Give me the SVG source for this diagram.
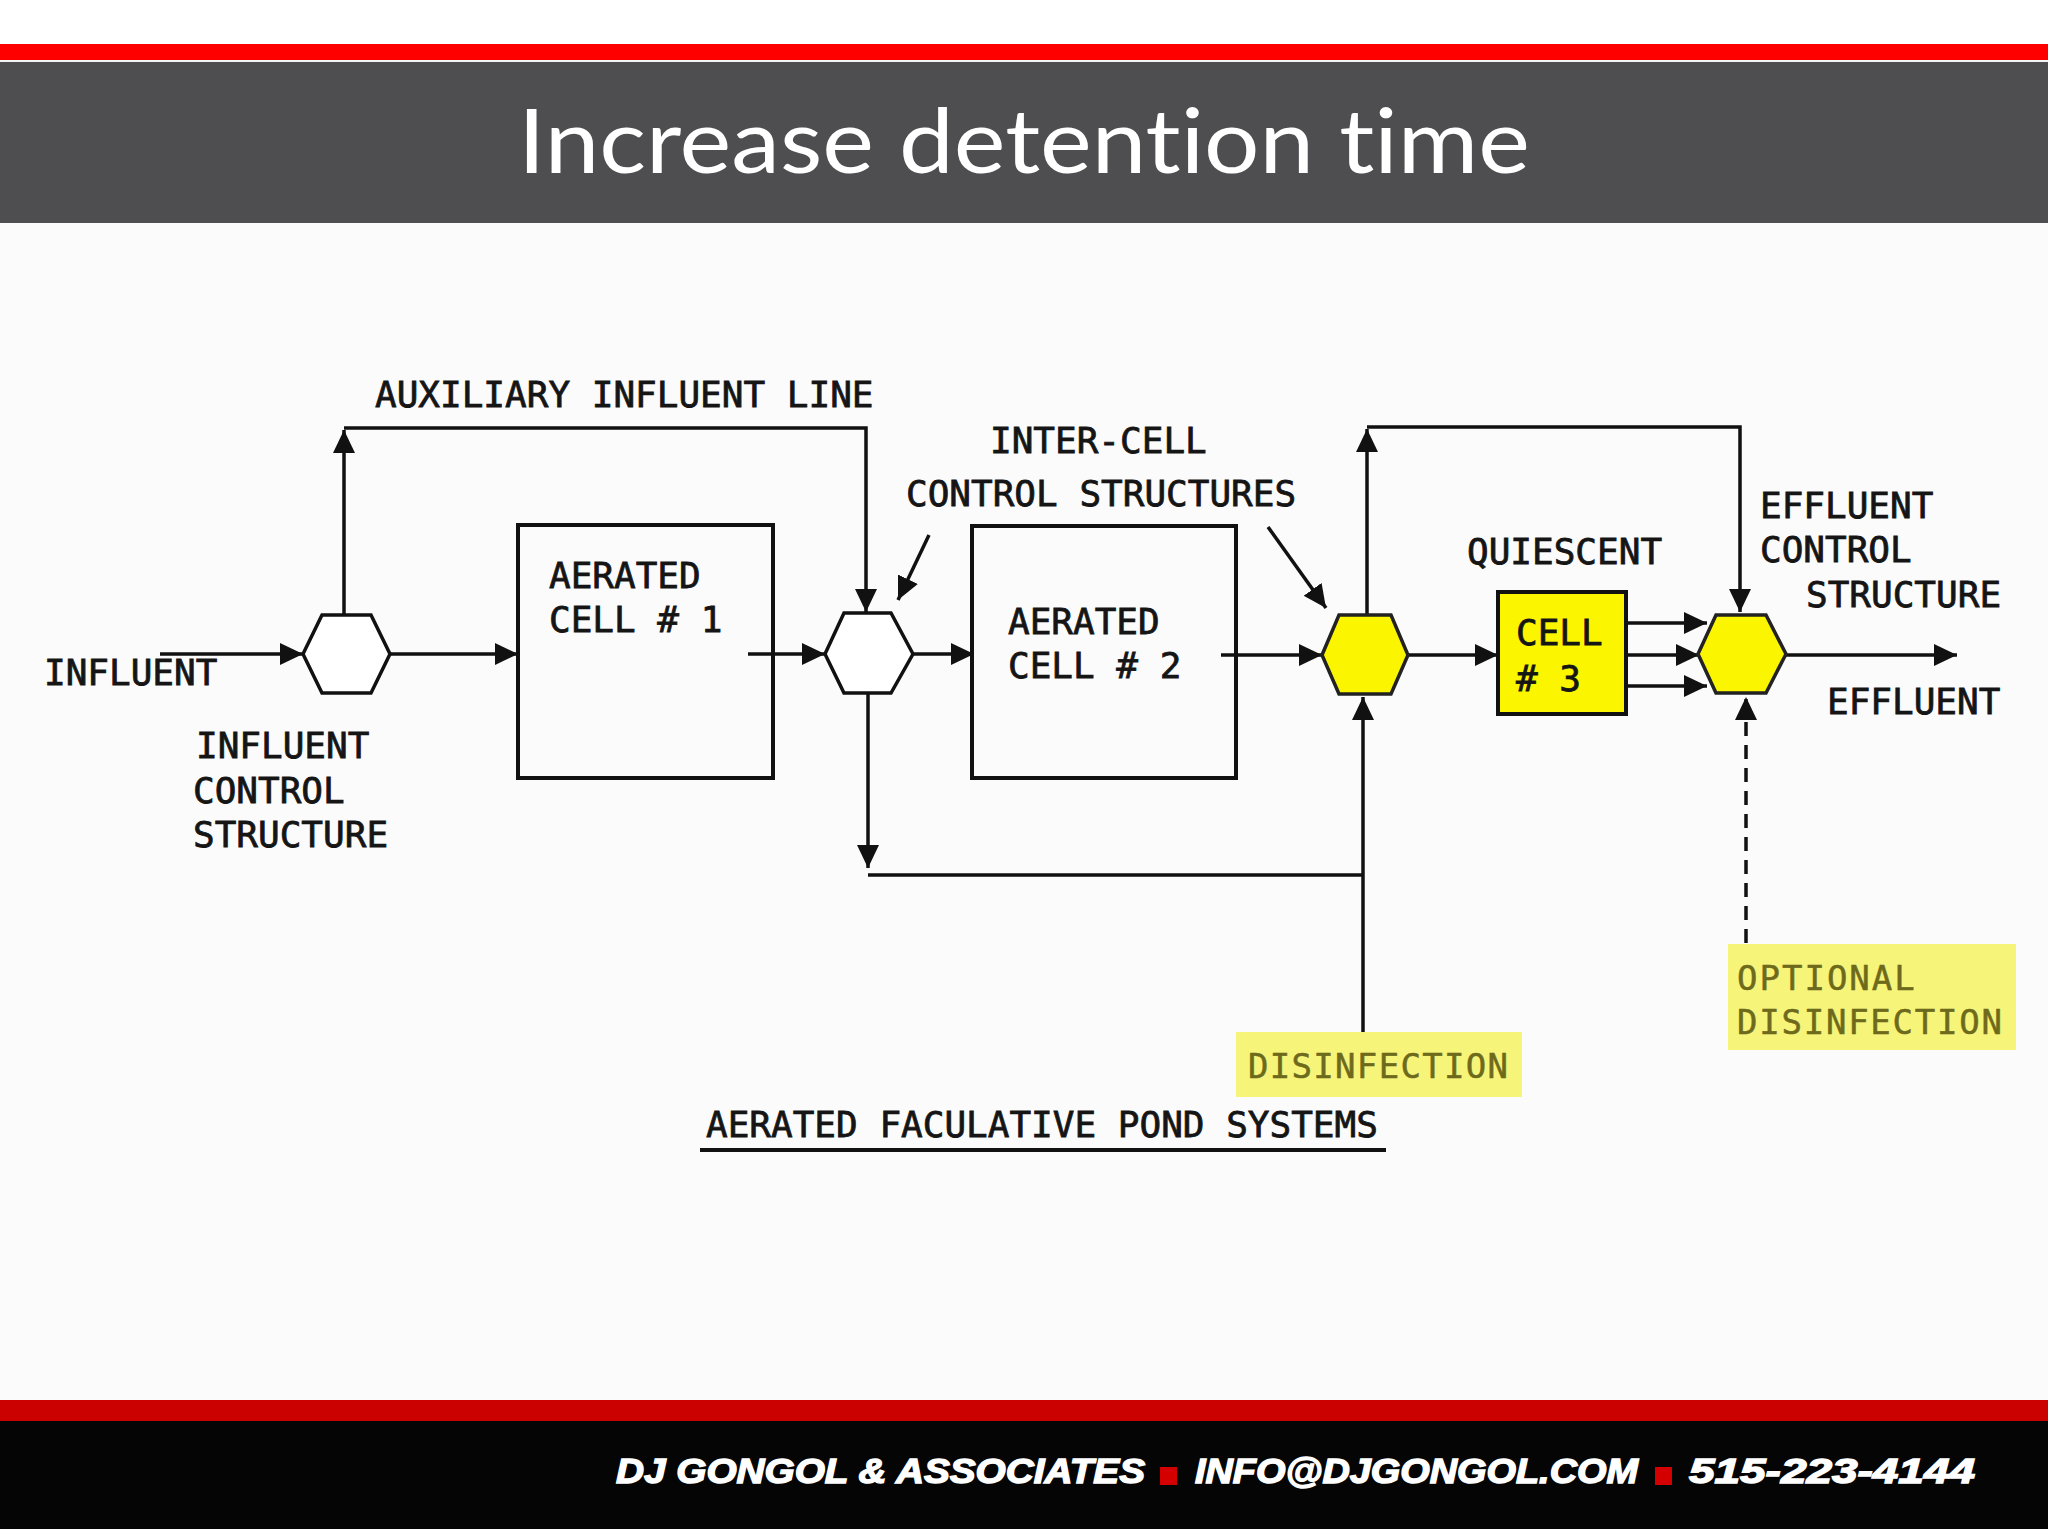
<svg xmlns="http://www.w3.org/2000/svg" width="2048" height="1535" viewBox="0 0 2048 1535">
<defs>
<marker id="ah" markerUnits="userSpaceOnUse" markerWidth="26" markerHeight="24" refX="23" refY="12" orient="auto">
<path d="M0,1 L23,12 L0,23 z" fill="#111"/>
</marker>
<style>
.ln{stroke:#111;stroke-width:3.5;fill:none}
.box{stroke:#111;stroke-width:4;fill:none}
.hex{stroke:#111;stroke-width:3.5;fill:#fff}
.hexy{stroke:#222;stroke-width:3.5;fill:#fbf600}
.t{font-family:"DejaVu Sans Mono","Liberation Mono",monospace;font-size:36px;fill:#151515;stroke:#151515;stroke-width:0.8}
.ty{font-family:"DejaVu Sans Mono","Liberation Mono",monospace;font-size:34px;fill:#6e6a1c;stroke:#6e6a1c;stroke-width:0.5;letter-spacing:2px}
.ft{font-family:"Liberation Sans",Arial,sans-serif;font-weight:bold;font-style:italic;font-size:35px;fill:#fff;stroke:#fff;stroke-width:1.4}
</style>
</defs>
<rect width="2048" height="1535" fill="#fbfbfb"/>
<rect x="0" y="0" width="2048" height="44" fill="#ffffff"/>
<rect x="0" y="44" width="2048" height="16" fill="#fe0000"/>
<rect x="0" y="60" width="2048" height="2" fill="#f4f4f4"/>
<rect x="0" y="62" width="2048" height="161" fill="#4e4e50"/>
<text x="1024" y="173" text-anchor="middle" font-family="Lato,'Open Sans',sans-serif" font-size="90" fill="#ffffff" style="font-variant-ligatures:none" textLength="1012" lengthAdjust="spacingAndGlyphs">Increase detention time</text>

<g id="connectors">
<line class="ln" x1="160" y1="654" x2="303" y2="654" marker-end="url(#ah)"/>
<line class="ln" x1="390" y1="654" x2="518" y2="654" marker-end="url(#ah)"/>
<line class="ln" x1="344" y1="615" x2="344" y2="430" marker-end="url(#ah)"/>
<path class="ln" d="M344,428 H866 V612" marker-end="url(#ah)"/>
<line class="ln" x1="748" y1="654" x2="825" y2="654" marker-end="url(#ah)"/>
<line class="ln" x1="913" y1="654" x2="974" y2="654" marker-end="url(#ah)"/>
<line class="ln" x1="1221" y1="655" x2="1322" y2="655" marker-end="url(#ah)"/>
<line class="ln" x1="929" y1="535" x2="898" y2="600" marker-end="url(#ah)"/>
<line class="ln" x1="1268" y1="527" x2="1326" y2="608" marker-end="url(#ah)"/>
<line class="ln" x1="868" y1="693" x2="868" y2="868" marker-end="url(#ah)"/>
<path class="ln" d="M868,875 H1363"/>
<line class="ln" x1="1363" y1="1032" x2="1363" y2="697" marker-end="url(#ah)"/>
<line class="ln" x1="1367" y1="615" x2="1367" y2="429" marker-end="url(#ah)"/>
<path class="ln" d="M1367,427 H1740 V612" marker-end="url(#ah)"/>
<line class="ln" x1="1408" y1="655" x2="1498" y2="655" marker-end="url(#ah)"/>
<line class="ln" x1="1627" y1="623" x2="1707" y2="623" marker-end="url(#ah)"/>
<line class="ln" x1="1627" y1="655" x2="1699" y2="655" marker-end="url(#ah)"/>
<line class="ln" x1="1627" y1="686" x2="1707" y2="686" marker-end="url(#ah)"/>
<line class="ln" x1="1786" y1="655" x2="1957" y2="655" marker-end="url(#ah)"/>
<line class="ln" x1="1746" y1="943" x2="1746" y2="697" stroke-dasharray="14,9" marker-end="url(#ah)"/>
</g>

<g id="influent-control">
<polygon class="hex" points="303,654 322,615 371,615 390,654 371,693 322,693"/>
</g>
<g id="cell1">
<rect class="box" x="518" y="525" width="255" height="253"/>
<text class="t" x="549" y="588">AERATED</text>
<text class="t" x="549" y="632">CELL # 1</text>
</g>
<g id="intercell1">
<polygon class="hex" points="825,654 844,613 891,613 913,654 891,693 844,693"/>
</g>
<g id="cell2">
<rect class="box" x="972" y="526" width="264" height="252"/>
<text class="t" x="1008" y="634">AERATED</text>
<text class="t" x="1008" y="678">CELL # 2</text>
</g>
<g id="intercell2">
<polygon class="hexy" points="1322,655 1339,615 1391,615 1408,655 1391,694 1339,694"/>
</g>
<g id="cell3">
<rect x="1498" y="592" width="128" height="122" fill="#fbf600" stroke="#111" stroke-width="4"/>
<text class="t" x="1516" y="645">CELL</text>
<text class="t" x="1516" y="691"># 3</text>
</g>
<g id="effluent-control">
<polygon class="hexy" points="1698,654 1716,615 1766,615 1786,654 1766,693 1716,693"/>
</g>
<g id="disinfection">
<rect x="1236" y="1032" width="286" height="65" fill="#f6f57a"/>
<text class="ty" x="1248" y="1078" textLength="262" lengthAdjust="spacing">DISINFECTION</text>
</g>
<g id="optional-disinfection">
<rect x="1728" y="944" width="288" height="106" fill="#f6f57a"/>
<text class="ty" x="1737" y="990">OPTIONAL</text>
<text class="ty" x="1737" y="1034" textLength="267" lengthAdjust="spacing">DISINFECTION</text>
</g>

<g id="labels">
<text class="t" x="44" y="685">INFLUENT</text>
<text class="t" x="196" y="758">INFLUENT</text>
<text class="t" x="193" y="803">CONTROL</text>
<text class="t" x="193" y="847">STRUCTURE</text>
<text class="t" x="375" y="407">AUXILIARY INFLUENT LINE</text>
<text class="t" x="990" y="453">INTER-CELL</text>
<text class="t" x="906" y="506">CONTROL STRUCTURES</text>
<text class="t" x="1467" y="564">QUIESCENT</text>
<text class="t" x="1760" y="518">EFFLUENT</text>
<text class="t" x="1760" y="562">CONTROL</text>
<text class="t" x="1806" y="607">STRUCTURE</text>
<text class="t" x="1827" y="714">EFFLUENT</text>
<text class="t" x="706" y="1137">AERATED FACULATIVE POND SYSTEMS</text>
<line x1="700" y1="1150" x2="1386" y2="1150" stroke="#111" stroke-width="4"/>
</g>

<rect x="0" y="1400" width="2048" height="21" fill="#cb0000"/>
<rect x="0" y="1421" width="2048" height="108" fill="#050506"/>
<rect x="0" y="1529" width="2048" height="6" fill="#ffffff"/>
<text class="ft" x="616" y="1483" textLength="529" lengthAdjust="spacingAndGlyphs">DJ GONGOL &amp; ASSOCIATES</text>
<rect x="1160" y="1467" width="17" height="18" fill="#d40000"/>
<text class="ft" x="1195" y="1483" textLength="443" lengthAdjust="spacingAndGlyphs">INFO@DJGONGOL.COM</text>
<rect x="1655" y="1467" width="17" height="18" fill="#d40000"/>
<text class="ft" x="1689" y="1483" textLength="286" lengthAdjust="spacingAndGlyphs">515-223-4144</text>
</svg>
